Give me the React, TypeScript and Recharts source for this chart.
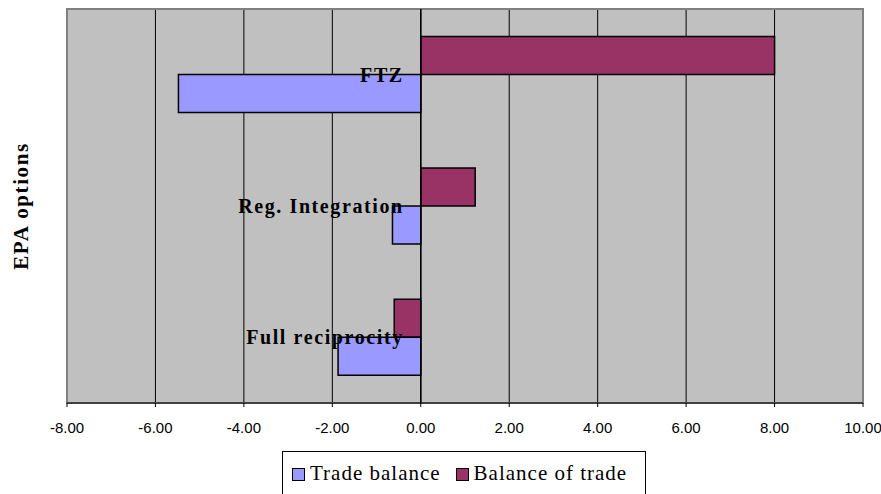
import React from 'react';
import {
  BarChart,
  Bar,
  XAxis,
  YAxis,
  CartesianGrid,
  ReferenceLine,
  ReferenceArea,
  ReferenceDot,
} from 'recharts';

const categories = ['FTZ', 'Reg. Integration', 'Full reciprocity'];
const tradeBalance = [-5.48, -0.64, -1.87];
const balanceOfTrade = [8.0, 1.23, -0.6];
const xTicks = [-8, -6, -4, -2, 0, 2, 4, 6, 8, 10];

const SERIES = [
  { key: 'tradeBalance', name: 'Trade balance', color: '#9999FF' },
  { key: 'balanceOfTrade', name: 'Balance of trade', color: '#993366' },
];

const data = categories.map((name, i) => ({
  name,
  tradeBalance: tradeBalance[i],
  balanceOfTrade: balanceOfTrade[i],
}));

const serif = '"Liberation Serif", "Times New Roman", Times, serif';
const sans = '"Liberation Sans", Arial, Helvetica, sans-serif';

const App: React.FC = () => {
  return (
    <div style={{ position: 'absolute', left: 0, top: 0, width: 881, height: 494, background: '#fff' }}>
      <BarChart
        width={881}
        height={494}
        data={data}
        layout="vertical"
        margin={{ top: 9, right: 18, left: 0, bottom: 0 }}
        barCategoryGap="21%"
        barGap={0}
      >
        <CartesianGrid horizontal={false} stroke="#000" fill="#C0C0C0" fillOpacity={1} />
        <ReferenceArea x1={-8} x2={10} fill="none" stroke="#808080" strokeWidth={2} />
        <XAxis
          type="number"
          domain={[-8, 10]}
          ticks={xTicks}
          interval={0}
          height={91}
          tickSize={4}
          tickMargin={15}
          stroke="#000"
          tick={{ fill: '#000', fontSize: 15, fontFamily: sans }}
          tickFormatter={(v: number) => v.toFixed(2)}
        />
        <YAxis
          type="category"
          dataKey="name"
          width={67}
          tick={false}
          tickLine={false}
          axisLine={false}
          label={{
            value: 'EPA options',
            angle: -90,
            position: 'center',
            dx: -13,
            fill: '#000',
            fontSize: 21,
            fontWeight: 'bold',
            fontFamily: serif,
            letterSpacing: 1.6,
          }}
        />
        <Bar
          dataKey="balanceOfTrade"
          name="Balance of trade"
          fill="#993366"
          stroke="#000"
          strokeWidth={1.5}
          isAnimationActive={false}
        />
        <Bar
          dataKey="tradeBalance"
          name="Trade balance"
          fill="#9999FF"
          stroke="#000"
          strokeWidth={1.5}
          isAnimationActive={false}
        />
        <ReferenceLine x={0} stroke="#000" strokeWidth={1.5} />
        {categories.map((c) => (
          <ReferenceDot
            key={c}
            x={0}
            y={c}
            r={0}
            fill="none"
            stroke="none"
            label={{
              value: c,
              position: 'left',
              offset: 17,
              fill: '#000',
              fontSize: 20,
              fontWeight: 'bold',
              fontFamily: serif,
              letterSpacing: 1.6,
            }}
          />
        ))}
      </BarChart>

      {/* legend box, below the axis */}
      <div
        style={{
          position: 'absolute',
          left: 282,
          top: 451,
          width: 364,
          height: 50,
          border: '1px solid #000',
          background: '#fff',
          display: 'flex',
          alignItems: 'flex-start',
          paddingLeft: 9,
          paddingTop: 9,
          boxSizing: 'border-box',
          fontFamily: serif,
          fontSize: 21,
          letterSpacing: 1,
          color: '#000',
        }}
      >
        {SERIES.map((s, i) => (
          <div key={s.key} style={{ display: 'flex', alignItems: 'center', marginLeft: i ? 15 : 0 }}>
            <span
              style={{
                display: 'inline-block',
                width: 13,
                height: 13,
                background: s.color,
                border: '1.5px solid #000',
                boxSizing: 'border-box',
                marginRight: 5,
                marginTop: 2,
              }}
            />
            <span style={{ lineHeight: '24px' }}>{s.name}</span>
          </div>
        ))}
      </div>
    </div>
  );
};

export default App;
